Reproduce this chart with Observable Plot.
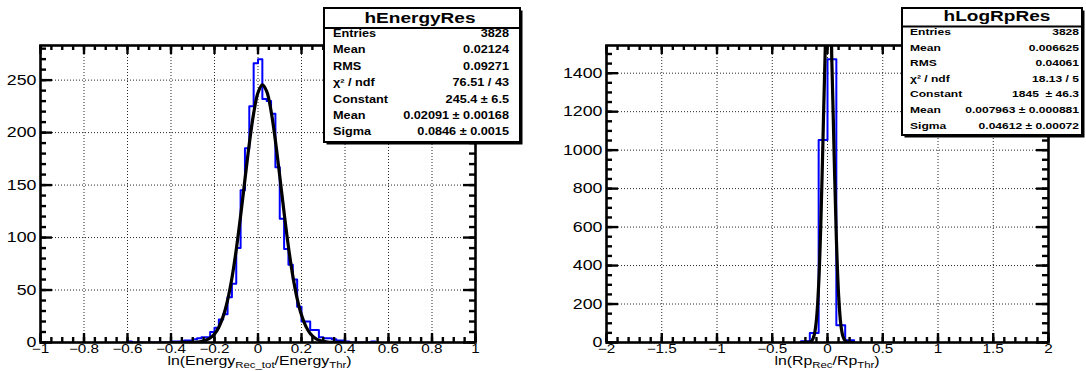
<!DOCTYPE html>
<html>
<head>
<meta charset="utf-8">
<script src="https://cdn.jsdelivr.net/npm/d3@7"></script>
<script src="https://cdn.jsdelivr.net/npm/@observablehq/plot@0.6"></script>
<style>
html, body { margin: 0; padding: 0; background: #fff; }
#wrap { position: relative; width: 1086px; height: 371px; display: flex; overflow: hidden; }
#wrap svg { display: block; flex: none; }
</style>
</head>
<body>
<div id="wrap"></div>
<script>
// ---------------- data: left panel (hEnergyRes) ----------------
const energyXDomain = [-1, 1];
const energyYDomain = [0, 283];
const energyXTicks = [-1, -0.8, -0.6, -0.4, -0.2, 0, 0.2, 0.4, 0.6, 0.8, 1];
const energyYTicks = [0, 50, 100, 150, 200, 250];
const energyBinWidth = 0.02;
const energyBinLow = [-0.60, -0.58, -0.56, -0.54, -0.52, -0.50, -0.48, -0.46, -0.44, -0.42,
  -0.40, -0.38, -0.36, -0.34, -0.32, -0.30, -0.28, -0.26, -0.24, -0.22,
  -0.20, -0.18, -0.16, -0.14, -0.12, -0.10, -0.08, -0.06, -0.04, -0.02,
  0.00, 0.02, 0.04, 0.06, 0.08, 0.10, 0.12, 0.14, 0.16, 0.18,
  0.20, 0.22, 0.24, 0.26, 0.28, 0.30, 0.32, 0.34, 0.36, 0.38,
  0.40, 0.42, 0.44, 0.46, 0.48, 0.50, 0.52];
const energyCounts = [1, 0, 0, 0, 0, 0, 0, 0, 0, 0,
  1, 1, 1, 2, 2, 3, 4, 5, 5, 10,
  14, 22, 27, 43, 56, 90, 145, 185, 225, 266,
  270, 232, 230, 218, 167, 118, 89, 74, 60, 34,
  20, 20, 12, 12, 5, 4, 4, 3, 2, 2,
  1, 0, 0, 0, 0, 0, 1];
const energyFitX = [-0.40, -0.38, -0.36, -0.34, -0.32, -0.30, -0.28, -0.26, -0.24, -0.22,
  -0.20, -0.18, -0.16, -0.14, -0.12, -0.10, -0.08, -0.06, -0.04, -0.02,
  0.00, 0.02, 0.04, 0.06, 0.08, 0.10, 0.12, 0.14, 0.16, 0.18,
  0.20, 0.22, 0.24, 0.26, 0.28, 0.30, 0.32, 0.34, 0.36, 0.38, 0.40];
const energyFitY = [0, 0, 0.01, 0.03, 0.07, 0.18, 0.44, 0.99, 2.11, 4.26,
  8.12, 14.6, 25.0, 40.2, 61.3, 88.4, 120.5, 155.3, 189.4, 218.3,
  238.0, 245.4, 239.2, 220.6, 192.3, 158.5, 123.6, 91.1, 63.5, 41.9,
  26.1, 15.4, 8.58, 4.53, 2.25, 1.06, 0.47, 0.2, 0.08, 0.03, 0.01];
const energyStatTitle = "hEnergyRes";
const energyStatLabels = ["Entries", "Mean", "RMS", "χ² / ndf", "Constant", "Mean", "Sigma"];
const energyStatValues = ["3828", "0.02124", "0.09271", "76.51 / 43", "245.4 ± 6.5", "0.02091 ± 0.00168", "0.0846 ± 0.0015"];

// ---------------- data: right panel (hLogRpRes) ----------------
const rpXDomain = [-2, 2];
const rpYDomain = [0, 1544];
const rpXTicks = [-2, -1.5, -1, -0.5, 0, 0.5, 1, 1.5, 2];
const rpYTicks = [0, 200, 400, 600, 800, 1000, 1200, 1400];
const rpBinWidth = 0.08;
const rpBinLow = [-0.24, -0.16, -0.08, 0.00, 0.08, 0.16];
const rpCounts = [6, 50, 1053, 1472, 90, 12];
const rpFitX = [-0.24, -0.22, -0.20, -0.18, -0.16, -0.14, -0.12, -0.10, -0.08, -0.06,
  -0.04, -0.02, 0.00, 0.02, 0.04, 0.06, 0.08, 0.10, 0.12, 0.14,
  0.16, 0.18, 0.20, 0.22, 0.24];
const rpFitY = [0, 0.01, 0.07, 0.46, 2.43, 10.7, 39.3, 119.1, 299.2, 623.1,
  1074.4, 1535.2, 1817.6, 1783.2, 1449.4, 976.2, 544.8, 251.8, 96.6, 30.6,
  8.06, 1.76, 0.32, 0.05, 0.01];
const rpStatTitle = "hLogRpRes";
const rpStatLabels = ["Entries", "Mean", "RMS", "χ² / ndf", "Constant", "Mean", "Sigma"];
const rpStatValues = ["3828", "0.006625", "0.04061", "18.13 / 5", "1845  ± 46.3", "0.007963 ± 0.000881", "0.04612 ± 0.00072"];

// ---------------- drawing ----------------
const FONT = '"Liberation Sans", Arial, Helvetica, sans-serif';
const K = 1.27;          // horizontal text stretch of the original rendering
const W = 543, H = 371, MT = 45, MB = 29;

function stepPoints(lows, counts, w) {
  const pts = [{x: lows[0], y: 0}];
  lows.forEach((x, i) => pts.push({x, y: counts[i]}));
  const end = lows[lows.length - 1] + w;
  pts.push({x: end, y: counts[counts.length - 1]});
  pts.push({x: end, y: 0});
  return pts;
}

function fmt(d) {
  const s = String(+d.toFixed(2));
  return d < 0 ? "\u2212" + s.slice(1) : s;
}

function stretchText(el, k) {
  const len = el.getComputedTextLength();
  if (!len) return;
  const b0 = el.getBBox();
  const anchor = getComputedStyle(el).textAnchor;
  el.setAttribute("textLength", len * k);
  el.setAttribute("lengthAdjust", "spacingAndGlyphs");
  const b1 = el.getBBox();
  let want = b0.x;
  if (anchor === "middle") want = b0.x + b0.width / 2 - b1.width / 2;
  else if (anchor === "end") want = b0.x + b0.width - b1.width;
  const shift = want - b1.x;
  if (Math.abs(shift) > 0.01) {
    const t = el.getAttribute("transform") || "";
    el.setAttribute("transform", (t + ` translate(${shift},0)`).trim());
  }
}

function panel(cfg) {
  const fw = W - cfg.ml - cfg.mr, fh = H - MT - MB;
  const xMinor = d3.range(cfg.xDomain[0], cfg.xDomain[1] + 1e-9, cfg.xMinorStep);
  const yMinor = d3.range(0, cfg.yDomain[1], cfg.yMinorStep);
  const fit = cfg.fitX.map((x, i) => ({x, y: cfg.fitY[i]}));
  const ink = {stroke: "black", strokeWidth: 2.4};
  const svg = Plot.plot({
    width: W, height: H,
    marginLeft: cfg.ml, marginRight: cfg.mr, marginTop: MT, marginBottom: MB,
    x: {domain: cfg.xDomain},
    y: {domain: cfg.yDomain},
    style: {fontFamily: FONT, fontSize: "14px", color: "black", background: "white", overflow: "visible"},
    marks: [
      Plot.gridX(cfg.xTicks, {stroke: "black", strokeOpacity: 0.85, strokeWidth: 1, strokeDasharray: "1,2"}),
      Plot.gridY(cfg.yTicks, {stroke: "black", strokeOpacity: 0.85, strokeWidth: 1, strokeDasharray: "1,2"}),
      Plot.line(stepPoints(cfg.binLow, cfg.counts, cfg.binWidth), {x: "x", y: "y", curve: "step-after", stroke: "#0000ff", strokeWidth: 2, clip: true}),
      Plot.line(fit, {x: "x", y: "y", curve: "catmull-rom", stroke: "black", strokeWidth: 3.2, clip: true}),
      Plot.frame({stroke: "black", strokeWidth: 2.6}),
      // major ticks (inside, all four sides)
      Plot.tickX(cfg.xTicks, {x: d => d, insetTop: fh - 9, ...ink}),
      Plot.tickX(cfg.xTicks, {x: d => d, insetBottom: fh - 9, ...ink}),
      Plot.tickY(cfg.yTicks, {y: d => d, insetRight: fw - 12, ...ink}),
      Plot.tickY(cfg.yTicks, {y: d => d, insetLeft: fw - 12, ...ink}),
      // minor ticks
      Plot.tickX(xMinor, {x: d => d, insetTop: fh - 5, ...ink}),
      Plot.tickX(xMinor, {x: d => d, insetBottom: fh - 5, ...ink}),
      Plot.tickY(yMinor, {y: d => d, insetRight: fw - 6, ...ink}),
      Plot.tickY(yMinor, {y: d => d, insetLeft: fw - 6, ...ink}),
      Plot.axisX({ticks: cfg.xTicks, anchor: "bottom", tickSize: 0, tickPadding: 1.5, tickFormat: fmt, label: null, fontSize: 12}),
      Plot.axisY({ticks: cfg.yTicks, anchor: "left", tickSize: 0, tickPadding: 4, tickFormat: d => String(d), label: null, fontSize: 14})
    ]
  });
  document.getElementById("wrap").appendChild(svg);
  svg.querySelectorAll("text").forEach(t => stretchText(t, K));

  const s = d3.select(svg);
  // axis title with subscripts
  const SUB = 3;
  const tg = s.append("g").attr("transform", `translate(${cfg.ml + fw / 2 + cfg.titleDx},${cfg.titleY}) scale(${K},1)`);
  const tt = tg.append("text").attr("text-anchor", "middle").attr("font-family", FONT).attr("font-size", 12.5).attr("fill", "black");
  cfg.titleParts.forEach(([str, sub]) => {
    if (sub) tt.append("tspan").attr("font-size", 9).attr("dy", SUB).text(str);
    else tt.append("tspan").attr("dy", tt.node().childNodes.length ? -SUB : 0).text(str);
  });

  // statistics box
  const b = cfg.box;
  const g = s.append("g");
  g.append("rect").attr("x", b.x + 2.5).attr("y", b.y + 2.5).attr("width", b.w).attr("height", b.h).attr("fill", "black");
  g.append("rect").attr("x", b.x).attr("y", b.y).attr("width", b.w).attr("height", b.h).attr("fill", "white").attr("stroke", "black").attr("stroke-width", 2);
  g.append("line").attr("x1", b.x).attr("x2", b.x + b.w).attr("y1", b.titleLine).attr("y2", b.titleLine).attr("stroke", "black").attr("stroke-width", 2);
  const put = (x, y, anchor, size, str) => {
    g.append("g").attr("transform", `translate(${x},${y}) scale(${K},1)`)
      .append("text").attr("text-anchor", anchor).attr("font-family", FONT).attr("font-weight", "bold")
      .attr("font-size", size).attr("fill", "black").text(str);
  };
  put(b.titleX, b.titleBase, "middle", b.titleSize, cfg.statTitle);
  cfg.statLabels.forEach((l, i) => put(b.labelX, b.row0 + i * b.rowStep, "start", b.fontSize, l));
  cfg.statValues.forEach((v, i) => put(b.valueX, b.row0 + i * b.rowStep, "end", b.fontSize, v));
}

panel({
  ml: 40, mr: 68,
  xDomain: energyXDomain, yDomain: energyYDomain,
  xTicks: energyXTicks, yTicks: energyYTicks, xMinorStep: 0.05, yMinorStep: 10,
  binLow: energyBinLow, counts: energyCounts, binWidth: energyBinWidth,
  fitX: energyFitX, fitY: energyFitY,
  titleParts: [["ln(Energy", false], ["Rec_tot", true], ["/Energy", false], ["Thr", true], [")", false]],
  titleDx: 2, titleY: 367.5,
  statTitle: energyStatTitle, statLabels: energyStatLabels, statValues: energyStatValues,
  box: {x: 324, y: 8, w: 196, h: 134, titleLine: 28, titleX: 420, titleBase: 22.5, titleSize: 15,
        labelX: 333, valueX: 509, row0: 37, rowStep: 16.4, fontSize: 10}
});

panel({
  ml: 63, mr: 38,
  xDomain: rpXDomain, yDomain: rpYDomain,
  xTicks: rpXTicks, yTicks: rpYTicks, xMinorStep: 0.1, yMinorStep: 50,
  binLow: rpBinLow, counts: rpCounts, binWidth: rpBinWidth,
  fitX: rpFitX, fitY: rpFitY,
  titleParts: [["ln(Rp", false], ["Rec", true], ["/Rp", false], ["Thr", true], [")", false]],
  titleDx: 0, titleY: 367.5,
  statTitle: rpStatTitle, statLabels: rpStatLabels, statValues: rpStatValues,
  box: {x: 359, y: 8, w: 180, h: 127, titleLine: 26.5, titleX: 454, titleBase: 21, titleSize: 15,
        labelX: 367, valueX: 536, row0: 35, rowStep: 15.6, fontSize: 9.5}
});
</script>
</body>
</html>
